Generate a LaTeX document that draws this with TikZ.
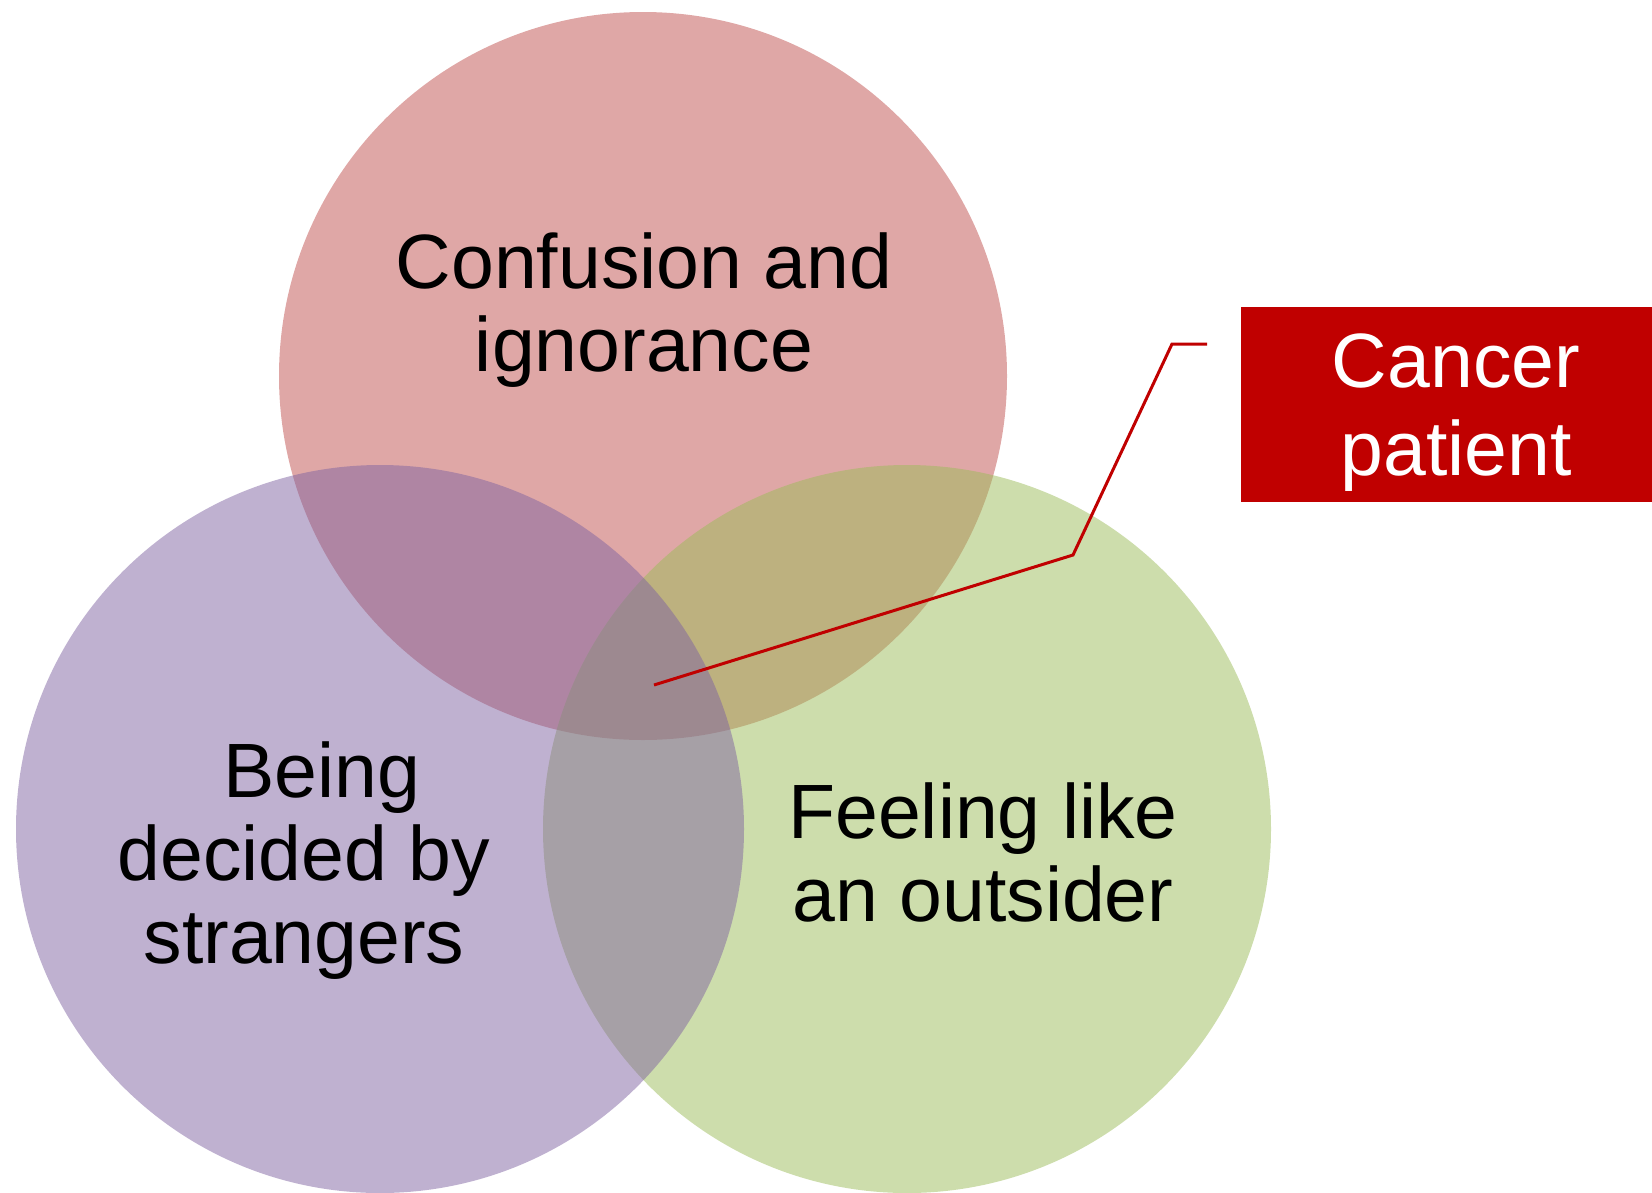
\documentclass[tikz,border=0pt]{standalone}
\usepackage{fontspec}
\setmainfont{Liberation Sans}
\definecolor{cpink}{HTML}{C0504D}
\definecolor{cgreen}{HTML}{9BBB59}
\definecolor{cpurple}{HTML}{8064A2}
\definecolor{cred}{HTML}{C00000}
\tikzset{
  venn/.style={fill opacity=0.5},
  lbl/.style={align=center, anchor=base, inner sep=0pt, font=\fontsize{77}{83}\selectfont, text=black},
  callout/.style={text=white, inner sep=0pt, align=center, anchor=base, font=\fontsize{77}{88}\selectfont},
  leader/.style={draw=cred, line width=3pt}
}
\begin{document}
\begin{tikzpicture}[x=1pt,y=-1pt]
\useasboundingbox (0,0) rectangle (1652,1192);
\fill[venn, cpink] (643,376) circle (364);
\fill[venn, cgreen] (907,829) circle (364);
\fill[venn, cpurple] (380,829) circle (364);
\node[lbl] (conf) at (644,371) {Confusion and\\ignorance};
\node[lbl] (being) at (304,963) {\hspace*{36pt}Being\\decided by\\strangers};
\node[lbl] (feel) at (983,921) {Feeling like\\an outsider};
\node[fill=cred, minimum width=430pt, minimum height=195pt, inner sep=0pt, anchor=north west] (box) at (1241,307) {};
\node[callout] (boxtext) at (1456,475) {Cancer\\patient};
\coordinate (p0) at (654,685);
\coordinate (p1) at (1073,555);
\coordinate (p2) at (1172,344);
\coordinate (p3) at (1207,344);
\draw[leader] (p0) -- (p1) -- (p2) -- (p3);
\end{tikzpicture}
\end{document}
